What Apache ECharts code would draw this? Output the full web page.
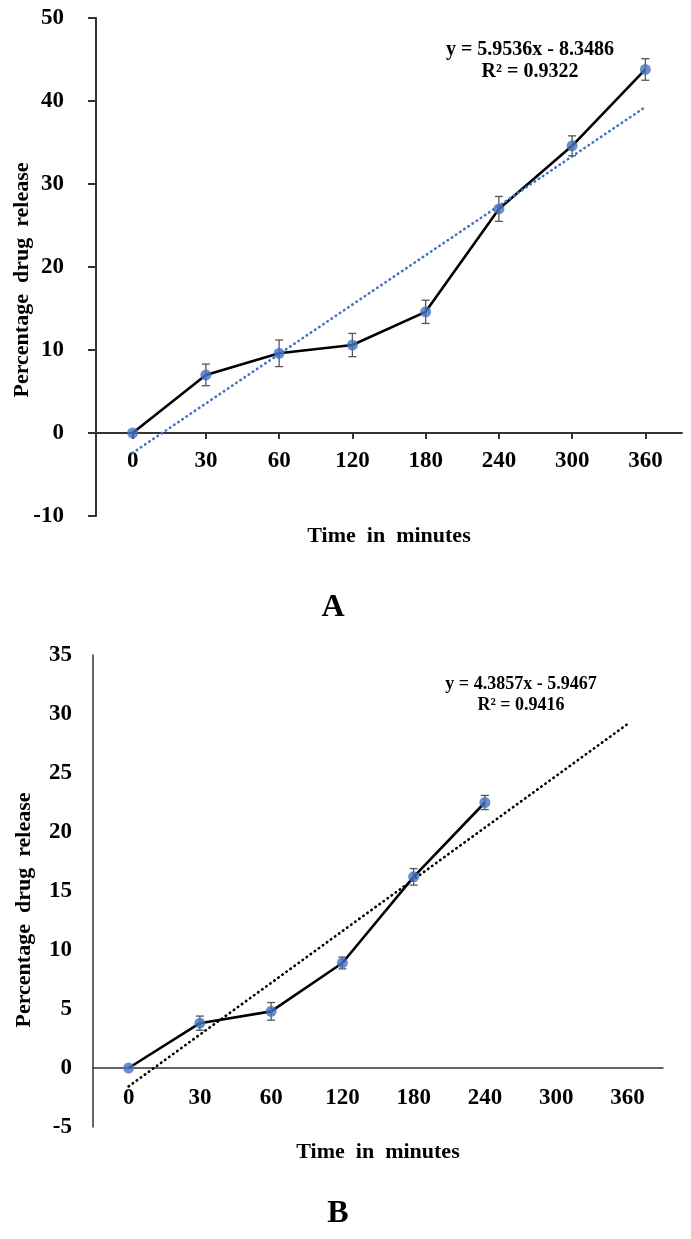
<!DOCTYPE html>
<html>
<head>
<meta charset="utf-8">
<script src="https://cdn.jsdelivr.net/npm/echarts@6/dist/echarts.min.js"></script>
<style>
html,body{margin:0;padding:0;background:#fff;}
#chart{width:691px;height:1239px;}
</style>
</head>
<body>
<div id="chart"></div>
<script>
// ---- data ----
const categories = ['0', '30', '60', '120', '180', '240', '300', '360'];
const yTicksA = [-10, 0, 10, 20, 30, 40, 50];
const yTicksB = [-5, 0, 5, 10, 15, 20, 25, 30, 35];
const releaseA = [0, 7.0, 9.6, 10.6, 14.6, 27.0, 34.6, 43.8];
const errorA = [0, 1.3, 1.6, 1.4, 1.4, 1.5, 1.2, 1.3];
const trendA = [-2.40, 3.56, 9.51, 15.47, 21.42, 27.37, 33.33, 39.28];
const releaseB = [0, 3.8, 4.8, 8.9, 16.2, 22.5, null, null];
const errorB = [0, 0.6, 0.75, 0.5, 0.7, 0.6, null, null];
const trendB = [-1.56, 2.83, 7.21, 11.60, 15.98, 20.37, 24.75, 29.14];
const eqA = ['y = 5.9536x - 8.3486', 'R² = 0.9322'];
const eqB = ['y = 4.3857x - 5.9467', 'R² = 0.9416'];

const FONT = "'Liberation Serif', 'Times New Roman', serif";

function errData(vals, errs) {
  const out = [];
  vals.forEach((v, i) => { if (v != null && errs[i]) out.push([i, v, errs[i]]); });
  return out;
}
function errRender(params, api) {
  const x = api.value(0), y = api.value(1), e = api.value(2);
  const t = api.coord([x, y + e]), b = api.coord([x, y - e]);
  const w = 4;
  const st = { stroke: '#555', lineWidth: 1.3 };
  return { type: 'group', children: [
    { type: 'line', shape: { x1: t[0], y1: t[1], x2: b[0], y2: b[1] }, style: st },
    { type: 'line', shape: { x1: t[0] - w, y1: t[1], x2: t[0] + w, y2: t[1] }, style: st },
    { type: 'line', shape: { x1: b[0] - w, y1: b[1], x2: b[0] + w, y2: b[1] }, style: st }
  ]};
}

const labelStyle = { fontFamily: FONT, fontWeight: 'bold', fontSize: 23, color: '#000' };
const nameStyle = { fontFamily: FONT, fontWeight: 'bold', fontSize: 22, color: '#000' };

const chart = echarts.init(document.getElementById('chart'), null, { renderer: 'canvas' });
chart.setOption({
  backgroundColor: '#fff',
  animation: false,
  grid: [
    { left: 96, right: 9, top: 18, height: 498, outerBoundsMode: 'none', containLabel: false },
    { left: 93, right: 28, top: 655, height: 472, outerBoundsMode: 'none', containLabel: false }
  ],
  xAxis: [
    { type: 'category', gridIndex: 0, data: categories, boundaryGap: true,
      axisLine: { onZero: true, lineStyle: { color: '#333', width: 2 } },
      axisTick: { show: true, alignWithLabel: true, length: 6, lineStyle: { color: '#333', width: 2 } },
      axisLabel: Object.assign({ margin: -66 }, labelStyle),
      name: 'Time  in  minutes', nameLocation: 'middle', nameGap: 9, nameMoveOverlap: false, nameTextStyle: nameStyle,
      splitLine: { show: false } },
    { type: 'category', gridIndex: 1, data: categories, boundaryGap: true,
      axisLine: { onZero: true, lineStyle: { color: '#333', width: 1.5 } },
      axisTick: { show: false },
      axisLabel: Object.assign({ margin: -40 }, labelStyle),
      name: 'Time  in  minutes', nameLocation: 'middle', nameGap: 14, nameMoveOverlap: false, nameTextStyle: nameStyle,
      splitLine: { show: false } }
  ],
  yAxis: [
    { type: 'value', gridIndex: 0, min: yTicksA[0], max: yTicksA[yTicksA.length - 1], interval: 10,
      axisLine: { show: true, onZero: false, lineStyle: { color: '#333', width: 2 } },
      axisTick: { show: true, length: 8, lineStyle: { color: '#333', width: 2 } },
      axisLabel: Object.assign({ margin: 32 }, labelStyle),
      splitLine: { show: false },
      name: 'Percentage  drug  release', nameLocation: 'middle', nameGap: 63, nameRotate: 90, nameMoveOverlap: false,
      nameTextStyle: Object.assign({ padding: [0, 26, 0, 0] }, nameStyle) },
    { type: 'value', gridIndex: 1, min: yTicksB[0], max: yTicksB[yTicksB.length - 1], interval: 5,
      axisLine: { show: true, onZero: false, lineStyle: { color: '#333', width: 1.5 } },
      axisTick: { show: false },
      axisLabel: Object.assign({ margin: 21 }, labelStyle),
      splitLine: { show: false },
      name: 'Percentage  drug  release', nameLocation: 'middle', nameGap: 58, nameRotate: 90, nameMoveOverlap: false,
      nameTextStyle: Object.assign({ padding: [0, 38, 0, 0] }, nameStyle) }
  ],
  series: [
    { type: 'line', xAxisIndex: 0, yAxisIndex: 0, data: releaseA, z: 2,
      symbol: 'none', lineStyle: { color: '#000', width: 2.6 } },
    { type: 'line', xAxisIndex: 0, yAxisIndex: 0, data: trendA, z: 3,
      symbol: 'none', lineStyle: { color: '#4472c4', width: 2.6, type: [0.5, 4.5], cap: 'round' } },
    { type: 'custom', xAxisIndex: 0, yAxisIndex: 0, data: errData(releaseA, errorA), z: 4,
      renderItem: errRender, encode: { x: 0, y: 1 } },
    { type: 'scatter', xAxisIndex: 0, yAxisIndex: 0, data: releaseA, z: 5,
      symbol: 'circle', symbolSize: 11, itemStyle: { color: '#4472c4' } },

    { type: 'line', xAxisIndex: 1, yAxisIndex: 1, data: releaseB, z: 2,
      symbol: 'none', lineStyle: { color: '#000', width: 2.6 } },
    { type: 'line', xAxisIndex: 1, yAxisIndex: 1, data: trendB, z: 3,
      symbol: 'none', lineStyle: { color: '#000', width: 2.6, type: [0.5, 4.5], cap: 'round' } },
    { type: 'custom', xAxisIndex: 1, yAxisIndex: 1, data: errData(releaseB, errorB), z: 4,
      renderItem: errRender, encode: { x: 0, y: 1 } },
    { type: 'scatter', xAxisIndex: 1, yAxisIndex: 1, data: releaseB, z: 5,
      symbol: 'circle', symbolSize: 11, itemStyle: { color: '#4472c4' } }
  ],
  graphic: [
    { type: 'text', x: 530, y: 50, style: { text: eqA[0], fontFamily: FONT, fontWeight: 'bold', fontSize: 20, fill: '#000', align: 'center', verticalAlign: 'middle' } },
    { type: 'text', x: 530, y: 72, style: { text: eqA[1], fontFamily: FONT, fontWeight: 'bold', fontSize: 20, fill: '#000', align: 'center', verticalAlign: 'middle' } },
    { type: 'text', x: 521, y: 684, style: { text: eqB[0], fontFamily: FONT, fontWeight: 'bold', fontSize: 18, fill: '#000', align: 'center', verticalAlign: 'middle' } },
    { type: 'text', x: 521, y: 705, style: { text: eqB[1], fontFamily: FONT, fontWeight: 'bold', fontSize: 18, fill: '#000', align: 'center', verticalAlign: 'middle' } },
    { type: 'text', x: 333, y: 608, style: { text: 'A', fontFamily: FONT, fontWeight: 'bold', fontSize: 32, fill: '#000', align: 'center', verticalAlign: 'middle' } },
    { type: 'text', x: 338, y: 1214, style: { text: 'B', fontFamily: FONT, fontWeight: 'bold', fontSize: 32, fill: '#000', align: 'center', verticalAlign: 'middle' } }
  ]
});
</script>
</body>
</html>
